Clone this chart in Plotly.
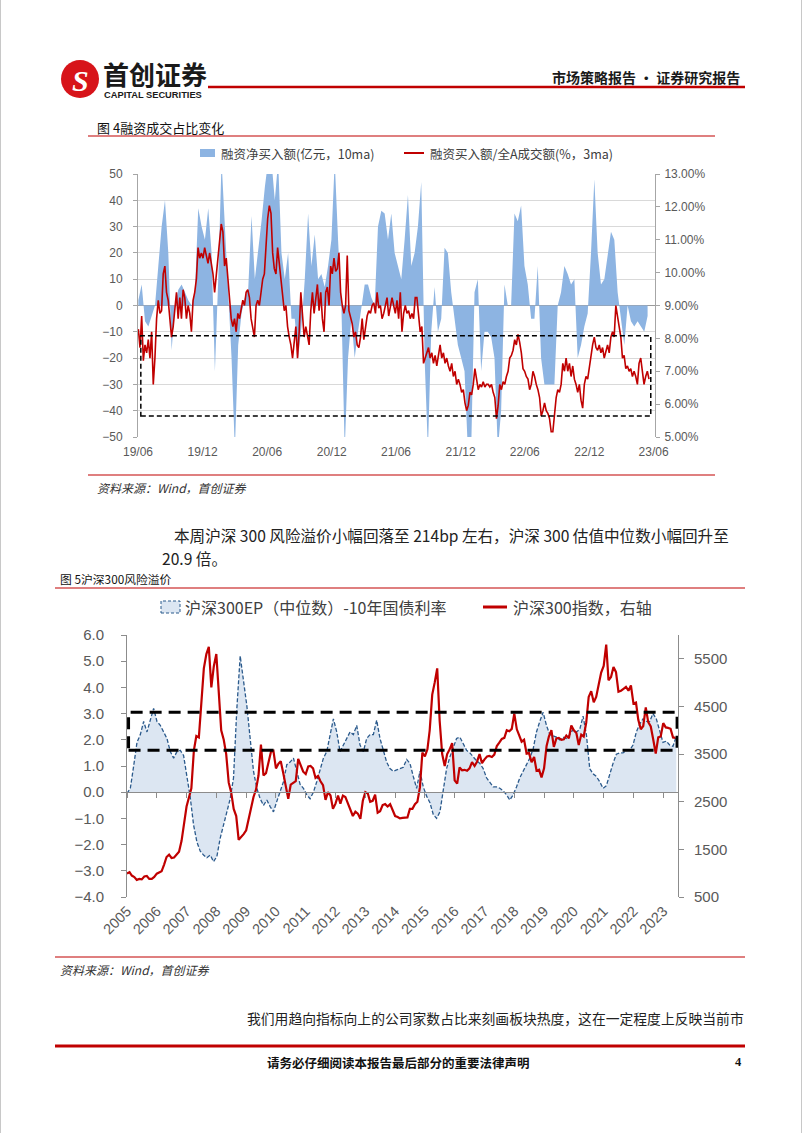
import pandas as pd
import plotly.graph_objects as go

W, H = 802, 1133


def px(x):
    return x / W


def py(y):
    return 1 - y / H


# ---------------- Chart 1 data: 融资成交占比变化 ----------------
fin_net_buy_name = "融资净买入额(亿元，10ma)"
fin_ratio_name = "融资买入额/全A成交额(%，3ma)"

fin_net_buy = [
    2, 8, -6, -8, -4, 0, 15, 30, 40, 20,
    -17, 0, 6, 8, 5, 2, 0, 5, 37, 30,
    25, 37, 20, -25, 10, 55, 30, 5, -20, -55,
    -15, -3, 3, 6, 34, 10, 20, 32, 45, 55,
    55, 40, 55, 20, 10, 20, -5, -5, -20, -8,
    10, 35,
    15, 27, 10, 12, 7, 15, 25, 55, 25, 0,
    -55, -20, -5, -20, -10, 0, 8, 8, 3, 0,
    30, 36, 35, 25, 35, 20, 15, 10, 25, 42,
    15, 20, 30, 47, -20, -55, -10, 7, -10, -5,
    22, 20, 5, -5, -15, -20, -25, -55, -55, 5,
    10, -25, -10,
    -10, -12, -20, -55, -40, 8, 0, 0, 35, 32,
    38, 15, 8, -5, -5, 15, -20, -30, -30, -30,
    -30, 0, 5, 15, 12, 8, 10, -20, -15, -8,
    -3, 20, 48, 20, 8, 10, 20, 28, 25, 5,
    -5, -15, 0, -6, -8, -6, -8, -10, -4,
]
fin_net_buy_dates = pd.date_range("2019-06-02", "2023-05-15", periods=len(fin_net_buy))

fin_ratio = [
    8.28, 7.72, 8.68, 7.32, 7.8, 7.56, 7.96, 7.4, 8.2, 6.6,
    7.4, 8.6, 9.16, 8.76, 8.84, 9.96, 10.2, 9.4, 9.16, 8.6,
    8.04, 8.36, 9.0, 9.4, 8.6, 9.24, 8.6, 9.48, 9.24, 8.6,
    9.0, 8.76, 8.2, 9.16, 9.4, 9.8, 10.76, 10.44, 10.6, 10.44,
    10.76, 10.52, 10.28, 10.6, 10.28, 9.96, 9.4, 9.96, 10.44, 11.0,
    11.48, 11.24, 10.2, 10.44, 9.8, 9.0, 8.6, 8.36, 8.6, 8.2,
    8.76, 8.6, 8.84, 9.16, 9.0, 9.4, 9.48, 9.24, 8.6, 8.36,
    8.04, 9.0, 9.16, 9.0, 9.4, 9.8, 9.96, 11.0, 11.64, 12.04,
    11.8, 10.6, 10.12, 9.96, 10.76, 10.28, 9.8, 9.4, 8.84, 9.0,
    8.36, 8.04, 7.8, 7.4, 7.8, 8.36, 7.4, 8.2, 9.4, 8.6,
    8.04, 8.36, 8.04, 7.8,
    8.84, 9.4, 8.76, 9.16, 9.64, 8.84, 9.4, 8.6, 8.2, 9.4,
    9.56, 9.0, 10.2, 9.96, 10.44, 10.04, 10.12, 10.6, 9.4, 9.0,
    8.76, 9.0, 10.52, 8.84, 8.6, 8.44, 8.04, 8.2, 7.8, 7.72,
    8.04, 8.6, 7.96, 8.36, 8.68, 8.84, 8.76, 9.0, 9.08, 8.76,
    9.4, 8.92, 9.0, 8.6, 8.76, 9.0, 9.24, 8.68, 9.0, 9.24,
    9.0, 8.76, 9.16, 8.6, 9.4, 8.2, 8.76, 9.0, 8.76, 8.84,
    8.6, 8.76, 8.6, 9.24, 9.24, 8.76, 8.2, 8.36, 7.24, 7.4,
    7.56, 7.72, 7.4, 7.56, 7.24, 7.48, 7.16, 7.56, 7.8, 7.4,
    7.56, 7.24, 7.4, 7.16, 7.0, 7.24, 6.84, 7.0, 6.6, 6.76,
    6.6, 6.36, 6.44, 6.04, 5.8, 5.96, 6.36, 6.28, 6.6, 7.08,
    6.76, 6.44, 6.6, 6.52, 6.68,
    6.52, 6.6, 6.6, 6.52, 6.6, 6.36, 6.2, 5.56, 5.96, 6.6,
    6.44, 6.68, 6.6, 6.84, 7.0, 7.4, 7.48, 7.64, 7.96, 7.8,
    8.12, 7.88, 7.56, 7.08, 7.0, 6.84, 6.76, 6.44, 6.6, 7.0,
    6.84, 6.6, 6.44, 6.2, 5.64, 5.8, 6.04, 5.8, 5.72, 5.56,
    5.16, 5.16, 5.64, 6.2, 6.44, 6.36, 6.6, 7.24, 7.0, 7.4,
    7.0, 7.24, 6.84, 7.16, 6.76, 6.6, 6.36, 6.6, 6.12, 5.88,
    6.6, 6.84, 6.76, 7.16, 7.4, 7.8, 8.04, 7.72, 7.64, 7.8,
    7.56, 7.72, 7.4, 7.64, 7.8, 7.56, 8.04, 8.2, 8.04, 9.0,
    8.6, 8.36, 8.04, 7.4, 7.48, 7.08, 7.16, 7.0, 7.08, 6.84,
    7.0, 6.84, 6.6, 7.24, 7.4, 7.0, 6.6, 6.84, 7.0, 6.76,
]
fin_ratio_dates = pd.date_range("2019-06-02", "2023-05-19", periods=len(fin_ratio))

# ---------------- Chart 2 data: 沪深300风险溢价 ----------------
erp_name = "沪深300EP（中位数）-10年国债利率"
hs300_name = "沪深300指数，右轴"

erp = [
    -0.05, 0.15, 1.0, 1.9, 2.2, 2.7, 2.3, 2.8, 3.2, 2.7,
    2.55, 2.3, 2.05, 1.55, 1.3, 1.55, 1.6, 1.4, 0.55, -0.2,
    -1.25, -1.9, -2.25, -2.4, -2.5, -2.4, -2.65, -2.45, -1.75, -1.25,
    -0.85, -0.25, 0.55, 3.2, 5.2, 4.3, 3.3, 2.05, 0.8, 0.15,
    -0.25, -0.5, -0.3, -0.55, -0.75, -0.35, 0.0, 0.4, 1.05, 1.15,
    1.3, 0.8, 0.3, 0.15, -0.1, -0.25, 0.0, 0.4, 0.9, 1.3,
    1.55, 2.2, 2.8, 2.3, 1.55, 1.8, 2.05, 2.3, 2.2, 2.55,
    1.8, 1.55, 2.05, 2.2, 2.2, 2.75, 2.05, 1.55, 1.15, 0.9,
    0.8, 0.85, 0.9,
    0.95, 1.25, 1.1, 0.6, 0.15, 0.8, 0.2, -0.15, -0.4, -0.85,
    -1.0, -0.75, 0.0, 0.9, 1.35, 1.7, 2.05, 2.1, 1.85, 1.6,
    1.5, 1.35, 1.2, 1.1, 0.9, 0.55, 0.35, 0.2, 0.2, 0.15,
    0.05, -0.1, -0.3, -0.1, 0.2, 0.55, 0.8, 1.05, 1.3, 1.65,
    2.3, 2.7, 3.05, 2.55, 2.2, 2.15, 2.1, 2.0, 2.1, 2.05,
    2.2, 2.4, 2.3, 2.4, 2.9, 2.2, 0.9, 0.7, 0.6, 0.4,
    0.15, 0.25, 0.7, 1.1, 1.45, 1.5, 1.5, 1.6, 1.6, 1.8,
    2.3, 2.6, 2.8, 2.7, 2.7, 3.0, 2.8, 2.3, 1.9, 1.95,
    1.8, 1.75, 2.14,
]
erp_dates = pd.date_range("2005-01-01", "2023-06-10", periods=len(erp))

hs300 = [
    995, 1020, 950, 920, 860, 880, 870, 930, 940, 880, 880, 920,
    990, 1020, 1040, 1180, 1340, 1390, 1320, 1330, 1390, 1450, 1680, 2040,
    2400, 2600, 2780, 3580, 3880, 3850, 4470, 5300, 5600, 5750, 4900, 5340,
    5600, 4800, 4000, 3800, 3500, 2900, 2700, 2350, 2200, 1700, 1750, 1820,
    1900, 2150, 2350, 2600, 2750, 3050, 3700, 3050, 3100, 3300, 3550, 3570,
    3200, 3300, 3350, 3100, 2800, 2560, 2860, 2900, 2930, 3400, 3250, 3130,
    3080, 3240, 3250, 3200, 3000, 3040, 2930, 2850, 2540, 2700, 2630, 2350,
    2460, 2630, 2460, 2630, 2600, 2460, 2330, 2200, 2290, 2250, 2140, 2520,
    2700, 2670, 2500, 2520, 2650, 2270, 2300, 2430, 2450, 2400, 2450, 2330,
    2200, 2180, 2150, 2160, 2160, 2170, 2350, 2350, 2450, 2500, 2800, 3530,
    3450, 3600, 4000, 4750, 5000, 5300, 4200, 3500, 3250, 3500, 3600, 3730,
    2950, 2880, 3220, 3160, 3170, 3150, 3200, 3330, 3250, 3340, 3500, 3310,
    3390, 3450, 3460, 3440, 3490, 3670, 3740, 3820, 3840, 4000, 3980, 4030,
    4350, 4020, 3900, 3760, 3800, 3510, 3520, 3330, 3440, 3150, 3170, 3010,
    3200, 3670, 3870, 4000, 3650, 3830, 3840, 3800, 3810, 3890, 3830, 4100,
    4000, 3940, 3690, 3910, 3870, 4160, 4700, 4820, 4590, 4700, 4960, 5210,
    5350, 5800, 5050, 5120, 5330, 5220, 4810, 4830, 4870, 4910, 4830, 4940,
    4560, 4580, 4220, 4020, 4090, 4480, 4170, 4080, 3800, 3510, 3850, 3870,
    4150, 4060, 4050, 4030, 3850, 3840,
]
hs300_dates = pd.date_range("2005-01-01", periods=len(hs300), freq="MS")

# ---------------- styles ----------------
RED = "#C00000"
BLUE_AREA = "#8DB4E2"
ERP_FILL = "#DCE6F2"
ERP_LINE = "#2B5A8C"
AXIS_GRAY = "#A6A6A6"
TICK_COLOR = "#595959"
CJK = "Noto Sans CJK SC"
NUM = "Liberation Sans"
NARROW = "Liberation Sans Narrow, Liberation Sans, Arial"

fig = go.Figure()

fig.add_trace(go.Scatter(
    x=fin_net_buy_dates, y=fin_net_buy, name=fin_net_buy_name,
    mode="lines", fill="tozeroy", fillcolor=BLUE_AREA,
    line=dict(width=0, color=BLUE_AREA), xaxis="x", yaxis="y",
))
fig.add_trace(go.Scatter(
    x=fin_ratio_dates, y=fin_ratio, name=fin_ratio_name,
    mode="lines", line=dict(width=1.6, color=RED), xaxis="x", yaxis="y2",
))
fig.add_trace(go.Scatter(
    x=erp_dates, y=erp, name=erp_name,
    mode="lines", fill="tozeroy", fillcolor=ERP_FILL,
    line=dict(width=1.3, color=ERP_LINE, dash="4px,2px"), xaxis="x3", yaxis="y3",
))
fig.add_trace(go.Scatter(
    x=hs300_dates, y=hs300, name=hs300_name,
    mode="lines", line=dict(width=2.2, color=RED), xaxis="x3", yaxis="y4",
))
# carrier for the zero-line tick axis of chart 2 (invisible)
fig.add_trace(go.Scatter(
    x=erp_dates, y=erp, mode="lines", line=dict(width=0), opacity=0,
    hoverinfo="skip", showlegend=False, xaxis="x4", yaxis="y3",
))

c1_dom_x = [px(138), px(655)]
c1_dom_y = [py(437), py(174)]
c2_dom_x = [px(127), px(678)]
c2_dom_y = [py(897), py(635)]

fig.update_layout(
    width=W, height=H,
    margin=dict(l=0, r=0, t=0, b=0, pad=0, autoexpand=False),
    paper_bgcolor="white", plot_bgcolor="white", showlegend=False,
    xaxis=dict(
        domain=c1_dom_x, anchor="y", type="date", automargin=False,
        range=["2019-06-01", "2023-06-05"], tick0="2019-06-01", dtick="M6",
        tickformat="%y/%m", showgrid=False, zeroline=False, showline=False,
        ticks="", ticklabelstandoff=6,
        tickfont=dict(family=NUM, size=12, color=TICK_COLOR),
    ),
    yaxis=dict(
        domain=c1_dom_y, anchor="x", range=[-50, 50], dtick=10, automargin=False,
        showgrid=True, gridcolor="#D9D9D9", gridwidth=1,
        zeroline=True, zerolinecolor="#9A9A9A", zerolinewidth=1,
        showline=True, linecolor=AXIS_GRAY, ticks="outside", ticklen=4,
        tickcolor=AXIS_GRAY, ticklabelstandoff=8,
        tickfont=dict(family=NUM, size=12, color=TICK_COLOR),
    ),
    yaxis2=dict(
        overlaying="y", side="right", anchor="x", range=[5, 13], dtick=1,
        automargin=False,
        tickformat=".2f", ticksuffix="%", showgrid=False, zeroline=False,
        showline=True, linecolor=AXIS_GRAY, ticks="outside", ticklen=4,
        tickcolor=AXIS_GRAY, ticklabelstandoff=2,
        tickfont=dict(family=NUM, size=12, color=TICK_COLOR),
    ),
    xaxis3=dict(
        domain=c2_dom_x, anchor="y3", type="date", automargin=False,
        range=["2005-01-01", "2023-07-01"], tick0="2005-01-01", dtick="M12",
        tickformat="%Y", tickangle=-45, showgrid=False, zeroline=False,
        showline=False, ticks="", ticklabelstandoff=2,
        tickfont=dict(family=NARROW, size=14.5, color=TICK_COLOR),
    ),
    xaxis4=dict(
        domain=c2_dom_x, overlaying="x3", matches="x3", anchor="free",
        position=py(792), type="date", tick0="2005-01-01", dtick="M12",
        automargin=False,
        showticklabels=False, showgrid=False, zeroline=False,
        showline=True, linecolor="#8C8C8C", ticks="outside", ticklen=5,
        tickcolor="#8C8C8C",
    ),
    yaxis3=dict(
        domain=c2_dom_y, anchor="x3", range=[-4, 6], dtick=1, tickformat=".1f",
        automargin=False,
        showgrid=False, zeroline=False, showline=True, linecolor="#8C8C8C",
        ticks="outside", ticklen=5, tickcolor="#8C8C8C", ticklabelstandoff=14,
        tickfont=dict(family=NARROW, size=15, color=TICK_COLOR),
    ),
    yaxis4=dict(
        overlaying="y3", side="right", anchor="x3", range=[500, 6000],
        automargin=False,
        tick0=500, dtick=1000, showgrid=False, zeroline=False,
        showline=True, linecolor="#8C8C8C", ticks="outside", ticklen=5,
        tickcolor="#8C8C8C", ticklabelstandoff=7,
        tickfont=dict(family=NARROW, size=15, color=TICK_COLOR),
    ),
)

shapes = []
annotations = []


def text(x, y, s, size, anchor="left", color="#222222", family=CJK):
    annotations.append(dict(
        x=px(x), y=py(y), xref="paper", yref="paper", text=s, showarrow=False,
        xanchor=anchor, yanchor="middle",
        font=dict(family=family, size=size, color=color),
    ))


def hline(x0, x1, y, width=1.2, color=RED):
    shapes.append(dict(type="line", xref="paper", yref="paper",
                       x0=px(x0), x1=px(x1), y0=py(y), y1=py(y),
                       line=dict(color=color, width=width)))


# page edges
shapes.append(dict(type="line", xref="paper", yref="paper", x0=px(0.5), x1=px(0.5),
                   y0=0, y1=1, line=dict(color="#C8C8C8", width=1)))
shapes.append(dict(type="line", xref="paper", yref="paper", x0=px(801.5), x1=px(801.5),
                   y0=0, y1=1, line=dict(color="#C8C8C8", width=1)))

# header
shapes.append(dict(type="circle", xref="paper", yref="paper",
                   x0=px(61), x1=px(99), y0=py(98), y1=py(60),
                   fillcolor="#D7141A", line=dict(width=0)))
text(80, 80, "<b><i>S</i></b>", 30, anchor="center", color="white", family="Liberation Serif")
text(101, 73, "<b>首创证券</b>", 26, color="#1A1A1A")
text(102, 95.5, "<b>CAPITAL SECURITIES</b>", 9.3, color="#1A1A1A", family=NUM)
text(742, 77, "<b>市场策略报告 · 证券研究报告</b>", 14, anchor="right", color="#1A1A1A")
hline(208, 745, 87, width=2.5)

# figure 4 block
text(95, 127, "图 4融资成交占比变化", 13, color="#111111")
hline(88, 715, 136)
shapes.append(dict(type="rect", xref="paper", yref="paper",
                   x0=px(200), x1=px(215), y0=py(157), y1=py(149),
                   fillcolor=BLUE_AREA, line=dict(width=0)))
text(219, 153, fin_net_buy_name, 12.5, color="#404040")
hline(404, 424, 153, width=2, color=RED)
text(428, 153, fin_ratio_name, 12.5, color="#404040")
shapes.append(dict(type="rect", xref="x", yref="y",
                   x0="2019-06-09", x1="2023-05-24", y0=-42, y1=-11.5,
                   line=dict(color="black", width=1.5, dash="5px,3px")))
hline(88, 715, 475)
text(95, 487, "<i>资料来源：Wind，首创证券</i>", 12, color="#333333")

# paragraph
text(172, 535, "本周沪深 300 风险溢价小幅回落至 214bp 左右，沪深 300 估值中位数小幅回升至", 15.6, color="#222222")
text(160, 557.8, "20.9 倍。", 15.6, color="#222222")

# figure 5 block
text(58, 578.5, "图 5沪深300风险溢价", 11.8, color="#111111")
hline(55, 745, 588)
shapes.append(dict(type="rect", xref="paper", yref="paper",
                   x0=px(161), x1=px(180), y0=py(613), y1=py(601),
                   fillcolor=ERP_FILL, line=dict(color=ERP_LINE, width=1, dash="3px,2px")))
text(183, 607, erp_name, 16, color="#404040")
hline(483, 507, 607, width=3, color=RED)
text(511, 607, hs300_name, 16, color="#404040")
shapes.append(dict(type="rect", xref="x3", yref="y3",
                   x0="2005-01-20", x1="2023-06-20", y0=1.6, y1=3.05,
                   line=dict(color="black", width=3, dash="12px,7px")))
hline(55, 745, 957)
text(58, 969, "<i>资料来源：Wind，首创证券</i>", 12, color="#333333")

# paragraph 2
text(245, 1018, "我们用趋向指标向上的公司家数占比来刻画板块热度，这在一定程度上反映当前市", 13.8, color="#222222")

# footer
hline(55, 745, 1046, width=3)
text(398, 1062, "<b>请务必仔细阅读本报告最后部分的重要法律声明</b>", 12.5, anchor="center", color="#111111")
text(744, 1062, "<b>4</b>", 12.5, anchor="right", color="#111111", family="Liberation Serif")

fig.update_layout(shapes=shapes, annotations=annotations)

fig.write_html(
    "out.html",
    config={"displayModeBar": False},
    post_script="document.body.style.margin='0';document.body.style.overflow='hidden';",
)
